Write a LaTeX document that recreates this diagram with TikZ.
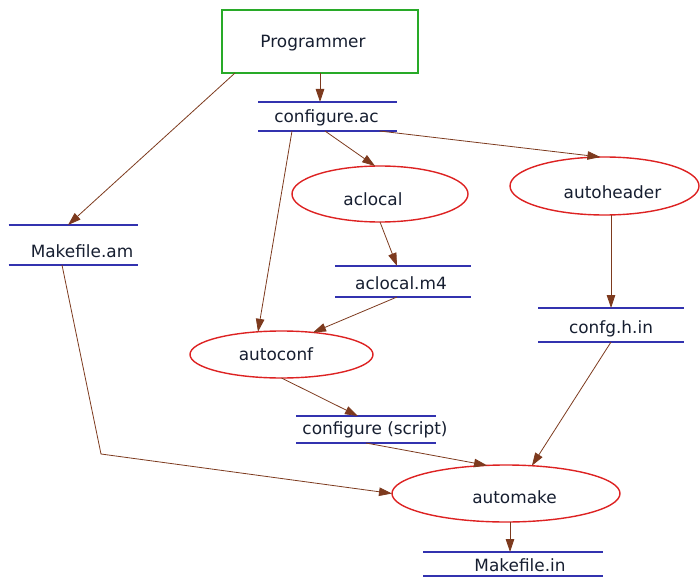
\documentclass[tikz,border=0pt]{standalone}
\usepackage{fontspec}
\setmainfont{DejaVu Sans}
\usetikzlibrary{shapes.geometric,arrows.meta}
\definecolor{edgebrown}{RGB}{125,58,30}
\definecolor{procred}{RGB}{221,34,34}
\definecolor{actorgreen}{RGB}{40,170,40}
\definecolor{storeblue}{RGB}{50,50,175}
\definecolor{inktext}{RGB}{22,30,48}
\begin{document}
\begin{tikzpicture}[x=1pt,y=-1pt,
  every node/.style={font=\fontsize{16.9}{19}\selectfont, text=inktext},
  actor/.style={draw=actorgreen, line width=1.3pt, rectangle, inner sep=0pt, outer sep=0pt},
  process/.style={draw=procred, line width=1.4pt, ellipse, inner sep=0pt, outer sep=0pt},
  store/.style={rectangle, inner sep=0pt, outer sep=0pt},
  storeline/.style={draw=storeblue, line width=1.3pt},
  flow/.style={draw=edgebrown, line width=0.8pt, -{Triangle[length=13pt,width=8.5pt]}},
]
\useasboundingbox (0,0) rectangle (700,577);

% actor, processes and data files (captions placed as centre labels)
\node[actor, minimum width=196pt, minimum height=63pt,
      label={[shift={(-7pt,-1.5pt)}]center:Programmer}] (prog) at (320,41.5) {};
\node[store, minimum width=139pt, minimum height=29pt,
      label={[shift={(-1pt,-1.5pt)}]center:configure.ac}] (cfg) at (327.5,116.5) {};
\node[store, minimum width=129pt, minimum height=40pt,
      label={[shift={(9pt,-6pt)}]center:Makefile.am}] (mam) at (73,245) {};
\node[process, minimum width=176pt, minimum height=56pt,
      label={[shift={(-7pt,-5pt)}]center:aclocal}] (aclocal) at (380,194) {};
\node[process, minimum width=189pt, minimum height=58pt,
      label={[shift={(8pt,-6pt)}]center:autoheader}] (autoheader) at (604.5,186) {};
\node[store, minimum width=136pt, minimum height=31pt,
      label={[shift={(-2pt,-1.5pt)}]center:aclocal.m4}] (aclm4) at (403,281.5) {};
\node[store, minimum width=146pt, minimum height=34pt,
      label={[shift={(0pt,-4pt)}]center:confg.h.in}] (confh) at (611,325) {};
\node[process, minimum width=183pt, minimum height=47pt,
      label={[shift={(-5.5pt,0pt)}]center:autoconf}] (autoconf) at (281.5,354.5) {};
\node[store, minimum width=140pt, minimum height=27pt,
      label={[shift={(9pt,0pt)}]center:configure (script)}] (script) at (366,429.5) {};
\node[process, minimum width=228pt, minimum height=57pt,
      label={[shift={(8.5pt,-3.5pt)}]center:automake}] (automake) at (506,493.5) {};
\node[store, minimum width=180pt, minimum height=24pt,
      label={[shift={(7pt,-1pt)}]center:Makefile.in}] (mfin) at (513,564) {};

% top and bottom rules of the data files
\foreach \n in {cfg,mam,aclm4,confh,script,mfin}
  \draw[storeline] (\n.north west) -- (\n.north east) (\n.south west) -- (\n.south east);

% flows
\coordinate (bend) at (101,454);
\draw[flow] (prog.south) -- (prog.south |- cfg.north);
\draw[flow] ([xshift=13pt]prog.south west) -- ([xshift=-5pt]mam.north);
\draw[flow] ([xshift=-2.5pt]cfg.south) -- (aclocal.100);
\draw[flow] ([xshift=52pt]cfg.south) -- (autoheader.98);
\draw[flow] ([xshift=-35.5pt]cfg.south) -- (autoconf.136);
\draw[flow] (aclocal.south) -- ([xshift=-6pt]aclm4.north);
\draw[flow] ([xshift=-6pt]aclm4.south) -- (autoconf.35);
\draw[flow] (autoheader.south -| confh.north) -- (confh.north);
\draw[flow] (autoconf.south) -- ([xshift=-8pt]script.north);
\draw[flow] (script.south) -- (automake.124);
\draw[flow] (confh.south) -- (automake.47);
\draw[flow] ([xshift=-11pt]mam.south) -- (bend) -- (automake.west);
\draw[flow] ([xshift=4pt]automake.south) -- ([xshift=-3pt]mfin.north);
\end{tikzpicture}
\end{document}
